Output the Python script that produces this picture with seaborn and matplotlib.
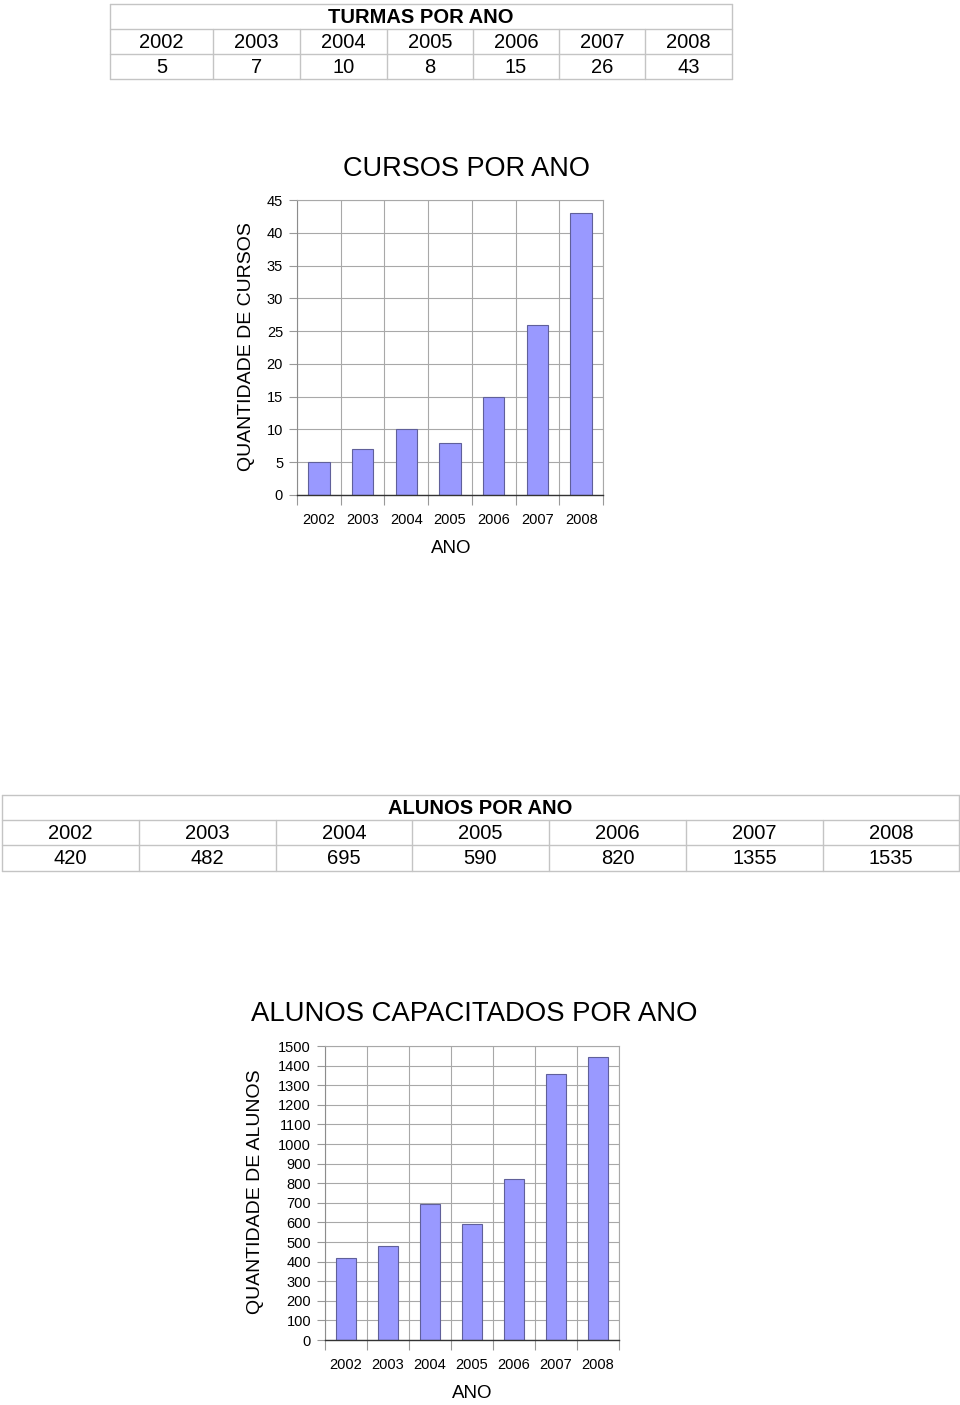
import matplotlib
matplotlib.use('Agg')
import matplotlib.pyplot as plt
import seaborn as sns
import pandas as pd
import numpy as np

# ---------------- data ----------------
anos = ['2002', '2003', '2004', '2005', '2006', '2007', '2008']
turmas_tabela = [5, 7, 10, 8, 15, 26, 43]
cursos_grafico = [5, 7, 10, 8, 15, 26, 43]
alunos_tabela = [420, 482, 695, 590, 820, 1355, 1535]
alunos_grafico = [420, 482, 695, 590, 820, 1355, 1445]

sns.set_theme(style='white')
plt.rcParams['font.family'] = ['Liberation Sans', 'DejaVu Sans']
plt.rcParams['text.color'] = 'black'
plt.rcParams['axes.labelcolor'] = 'black'

W, H = 960, 1405
fig = plt.figure(figsize=(9.6, 14.05), dpi=100)
fig.patch.set_facecolor('white')


def px_axes(l, t, r, b):
    return fig.add_axes([l / W, 1 - b / H, (r - l) / W, (b - t) / H])


def ftext(x, y, s, **kw):
    fig.text(x / W, 1 - y / H, s, ha='center', va='center', color='black', **kw)


# ---------------- tables ----------------
ov = fig.add_axes([0, 0, 1, 1])
ov.set_xlim(0, W)
ov.set_ylim(H, 0)
ov.axis('off')


def table(title, years, vals, cols, rows, fs=14.5):
    c = '#c4c4c4'
    x0, x1 = cols[0], cols[-1]
    for y in rows:
        ov.plot([x0, x1], [y, y], color=c, lw=1.0)
    for i, x in enumerate(cols):
        top = rows[0] if i in (0, len(cols) - 1) else rows[1]
        ov.plot([x, x], [top, rows[-1]], color=c, lw=1.0)
    ov.text((x0 + x1) / 2, (rows[0] + rows[1]) / 2 + 1, title, ha='center', va='center',
            fontsize=fs, fontweight='bold', color='black')
    for i in range(len(years)):
        cx = (cols[i] + cols[i + 1]) / 2
        ov.text(cx, (rows[1] + rows[2]) / 2 + 1, years[i], ha='center', va='center',
                fontsize=fs, color='black')
        ov.text(cx, (rows[2] + rows[3]) / 2 + 1, str(vals[i]), ha='center', va='center',
                fontsize=fs, color='black')


table('TURMAS POR ANO', anos, turmas_tabela,
      [110, 213, 300, 387, 473, 559, 645, 732], [4, 29, 54, 79])
table('ALUNOS POR ANO', anos, alunos_tabela,
      [2, 139, 276, 412, 549, 686, 823, 959], [795, 820, 845, 871])


# ---------------- charts ----------------
def chart(ax, values, ymax, step):
    df = pd.DataFrame({'ANO': anos, 'V': values})
    sns.barplot(data=df, x='ANO', y='V', color='#9999ff', edgecolor='#60609a',
                linewidth=0.8, width=0.49, saturation=1, ax=ax)
    ax.set_xlim(-0.5, len(anos) - 0.5)
    ax.set_ylim(0, ymax)
    ax.set_yticks(np.arange(0, ymax + 1, step))
    ax.set_xticks(np.arange(-0.5, len(anos), 1), minor=True)
    ax.grid(True, axis='y', which='major', color='#a8a8a8', lw=0.8)
    ax.grid(True, axis='x', which='minor', color='#a8a8a8', lw=0.8)
    ax.grid(False, axis='x', which='major')
    ax.set_axisbelow(True)
    ax.tick_params(axis='x', which='major', length=0, pad=13, labelsize=10.5,
                   labelcolor='black')
    ax.tick_params(axis='x', which='minor', length=7, width=0.8, color='#999999', bottom=True)
    ax.tick_params(axis='y', which='major', length=6, width=0.8, pad=4, labelsize=10.5,
                   left=True, color='#999999', labelcolor='black')
    ax.set_xlabel('')
    ax.set_ylabel('')
    for s in ['top', 'right']:
        ax.spines[s].set_color('#a8a8a8')
        ax.spines[s].set_linewidth(0.8)
    ax.spines['left'].set_color('#8c8c8c')
    ax.spines['left'].set_linewidth(0.8)
    ax.spines['bottom'].set_color('#333333')
    ax.spines['bottom'].set_linewidth(1.0)


ax1 = px_axes(297, 200, 603, 495)
chart(ax1, cursos_grafico, 45, 5)
ftext(466, 169, 'CURSOS POR ANO', fontsize=19.5)
ftext(247, 347, 'QUANTIDADE DE CURSOS', fontsize=14, rotation=90)
ftext(451, 549, 'ANO', fontsize=13.5)

ax2 = px_axes(325, 1046, 619, 1340)
chart(ax2, alunos_grafico, 1500, 100)
ftext(474, 1014, 'ALUNOS CAPACITADOS POR ANO', fontsize=19.8)
ftext(256, 1192, 'QUANTIDADE DE ALUNOS', fontsize=14, rotation=90)
ftext(472, 1393, 'ANO', fontsize=13.5)

fig.savefig('out.png', dpi=100, facecolor='white')
